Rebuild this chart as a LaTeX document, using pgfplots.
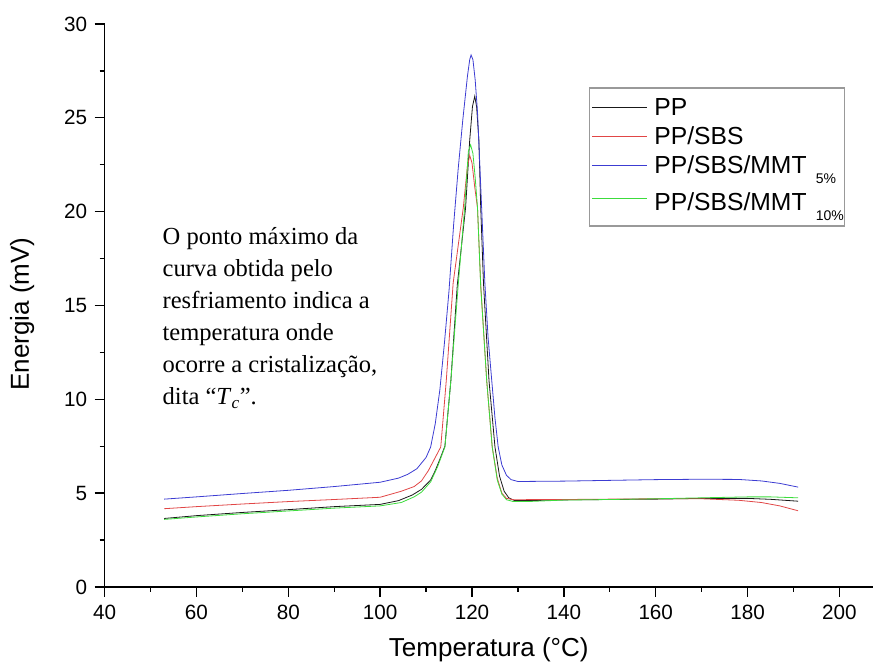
\documentclass[border=0pt]{standalone}
\usepackage{fontspec}
\setmainfont{Liberation Sans}
\newfontfamily\annfont{Liberation Serif}
\usepackage{pgfplots}
\pgfplotsset{compat=1.18}
\definecolor{cblack}{RGB}{25,25,25}
\definecolor{cred}{RGB}{225,70,70}
\definecolor{cblue}{RGB}{60,60,210}
\definecolor{cgreen}{RGB}{60,220,60}

\newcommand{\sub}[1]{\hspace{7pt}\smash{\raisebox{-7.5pt}{\fontsize{10.5}{12}\selectfont #1}}}

\begin{document}
\begin{tikzpicture}
\begin{axis}[name=ax, scale only axis, width=576.4pt, height=422.25pt,
  xmin=40, xmax=207.3, ymin=0, ymax=30,
  axis lines*=left, axis line style={line width=1pt},
  xtick={40,60,...,200}, ytick={0,5,...,30}, minor tick num=1,
  tick align=outside, major tick length=7.5pt, minor tick length=3.75pt,
  tick style={line width=1pt, black},
  tick label style={font=\fontsize{15.5}{18}\selectfont},
  xticklabel style={yshift=-2.5pt},
  yticklabel style={xshift=-2pt},
  /pgf/number format/assume math mode=true,
  xlabel={Temperatura (°C)}, ylabel={Energia (mV)},
  label style={font=\fontsize{19.5}{22}\selectfont},
  xlabel style={at={(axis description cs:0.5,-0.1119)}, anchor=center},
  ylabel style={at={(axis description cs:-0.1073,0.485)}, anchor=center},
  legend style={at={(0.632,0.876)}, anchor=north west, draw=none, fill=none,
    font=\fontsize{18.5}{21}\selectfont, legend cell align=left, row sep=3pt,
    inner sep=1pt},
  legend image code/.code={\draw[#1, line width=1pt] (0pt,0pt) -- (41pt,0pt);},
  every axis plot/.append style={line width=0.6pt},
]
% PP
\addplot[cblack] coordinates {
(53,3.65)(60,3.8)(70,3.97)(80,4.12)(90,4.28)(100,4.4)(104,4.6)(107,4.9)(109,5.2)
(111,5.7)(112,6.2)(113,6.8)(114.1,7.5)(115.4,11)(116.8,16.1)(118.6,20.2)(119.5,23.8)
(120.1,25.6)(120.6,26.15)(121,25.6)(121.5,23.8)(121.9,20.2)(122.5,16.2)(123.7,11)
(125,7.46)(126,5.9)(127,5.1)(128,4.75)(129.3,4.6)(132,4.6)(140,4.64)(150,4.66)
(160,4.68)(170,4.72)(180,4.72)(185,4.67)(191,4.57)};
\addlegendentry{\hspace{3pt}PP}
% PP/SBS
\addplot[cred] coordinates {
(53,4.17)(60,4.28)(70,4.42)(80,4.55)(90,4.66)(100,4.78)(104.6,5.1)(107.4,5.35)
(109,5.65)(110.5,6.2)(112,6.9)(113.2,7.46)(114.4,11)(115.9,16.2)(118.1,20.2)
(119,22.4)(119.5,23.0)(120,22.6)(120.6,21.3)(121.2,20.2)(121.9,16.1)(123.2,11)
(124.4,7.46)(125.5,5.8)(126.5,5.0)(127.5,4.72)(129,4.65)(140,4.66)(150,4.68)
(160,4.7)(170,4.7)(178,4.62)(183,4.5)(187,4.32)(191,4.06)};
\addlegendentry{\hspace{3pt}PP/SBS}
% PP/SBS/MMT 5%
\addplot[cblue] coordinates {
(53,4.68)(60,4.8)(70,4.98)(80,5.15)(90,5.35)(100,5.58)(104,5.8)(106,6.0)(108,6.3)
(110,6.9)(111,7.46)(112,8.7)(113,10.5)(114,13.0)(115,15.8)(116,19.3)(117,22.3)
(118,24.9)(119,27.2)(119.5,28.1)(119.8,28.35)(120.2,28.1)(120.7,27.0)(121.2,25.3)
(121.7,22.5)(122.1,20.2)(122.8,16.2)(123.5,13.3)(124.3,11.0)(125,9.0)(125.7,7.46)
(126.5,6.5)(127.5,5.95)(128.5,5.72)(130,5.62)(140,5.64)(150,5.68)(160,5.72)
(170,5.74)(178,5.73)(183,5.65)(187,5.52)(191,5.32)};
\addlegendentry{\hspace{3pt}PP/SBS/MMT\sub{5\%}}
% PP/SBS/MMT 10%
\addplot[cgreen] coordinates {
(53,3.6)(60,3.73)(70,3.9)(80,4.05)(90,4.2)(100,4.32)(104.6,4.5)(107.4,4.8)(109,5.05)
(111,5.6)(112.5,6.4)(114.1,7.46)(115.4,11)(117,16.1)(118.4,20.2)(119.2,23.2)
(119.7,23.56)(120.2,23.1)(120.7,21.8)(121.2,20.2)(121.9,16.0)(123.2,11)(124.4,7.46)
(125.5,5.7)(126.5,4.95)(127.5,4.65)(129,4.55)(132,4.55)(140,4.63)(150,4.66)
(160,4.7)(170,4.75)(180,4.8)(185,4.8)(191,4.75)};
\addlegendentry{\hspace{3pt}\rule{0pt}{19pt}PP/SBS/MMT\sub{10\%}}
\draw[gray!80, line width=0.8pt] (rel axis cs:0.6305,0.8863) rectangle (rel axis cs:0.9629,0.6412);
\node[anchor=north west, inner sep=0pt, align=left,
  font=\annfont\fontsize{18.4}{24}\selectfont] at (axis cs:52.6,19.15)
  {O ponto máximo da\\ curva obtida pelo\\ resfriamento indica a\\
   temperatura onde\\ ocorre a cristalização,\\
   dita “\textit{T}\textsubscript{\textit{c}}”.};
\end{axis}
\pgfresetboundingbox
\path[use as bounding box] ([xshift=-78.4pt,yshift=-57pt]ax.south west)
  rectangle ([yshift=18pt]ax.north east);
\end{tikzpicture}
\end{document}
